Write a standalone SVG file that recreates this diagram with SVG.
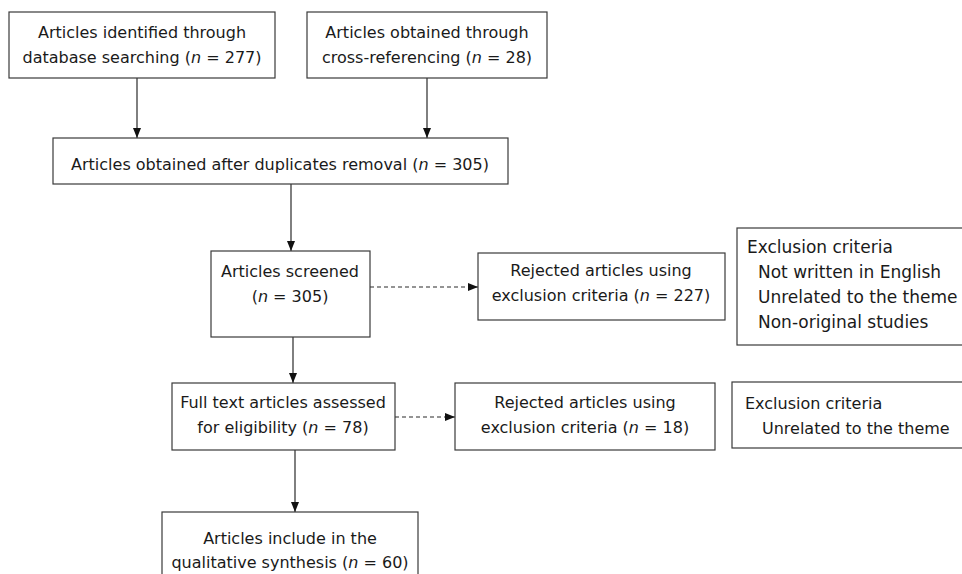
<svg xmlns="http://www.w3.org/2000/svg" width="962" height="574" viewBox="0 0 962 574">
<style>
.box{fill:#ffffff;stroke:#3a3a3a;stroke-width:1.2}
.t{font-family:"DejaVu Sans","Liberation Sans",sans-serif;font-size:16px;fill:#1a1a1a}
.b{font-size:17px}
.c{text-anchor:middle}
.ln{stroke:#2a2a2a;stroke-width:1.2;fill:none}
.ds{stroke-dasharray:4 3}
.i{font-style:italic}
</style>
<defs>
<marker id="ah" viewBox="0 0 10 10" refX="10" refY="5" markerWidth="10" markerHeight="10" markerUnits="userSpaceOnUse" orient="auto">
<path d="M0,1 L10,5 L0,9 Z" fill="#111"/>
</marker>
</defs>
<rect width="962" height="574" fill="#ffffff"/>
<g id="connectors">
<line class="ln" x1="137" y1="78" x2="137" y2="138" marker-end="url(#ah)"/>
<line class="ln" x1="427" y1="78" x2="427" y2="138" marker-end="url(#ah)"/>
<line class="ln" x1="291" y1="184" x2="291" y2="251" marker-end="url(#ah)"/>
<line class="ln" x1="293" y1="337" x2="293" y2="383" marker-end="url(#ah)"/>
<line class="ln" x1="295" y1="450" x2="295" y2="512" marker-end="url(#ah)"/>
<line class="ln ds" x1="370" y1="287" x2="478" y2="287" marker-end="url(#ah)"/>
<line class="ln ds" x1="395" y1="417" x2="455" y2="417" marker-end="url(#ah)"/>
</g>
<g id="n1">
<rect class="box" x="9" y="12" width="266" height="66"/>
<text class="t c" x="142" y="38">Articles identified through</text>
<text class="t c" x="142" y="63">database searching (<tspan class="i">n</tspan> = 277)</text>
</g>
<g id="n2">
<rect class="box" x="307" y="12" width="240" height="66"/>
<text class="t c" x="427" y="38">Articles obtained through</text>
<text class="t c" x="427" y="63">cross-referencing (<tspan class="i">n</tspan> = 28)</text>
</g>
<g id="n3">
<rect class="box" x="53" y="138" width="455" height="46"/>
<text class="t c" x="280" y="170">Articles obtained after duplicates removal (<tspan class="i">n</tspan> = 305)</text>
</g>
<g id="n4">
<rect class="box" x="211" y="251" width="159" height="86"/>
<text class="t c" x="290" y="277">Articles screened</text>
<text class="t c" x="290" y="302">(<tspan class="i">n</tspan> = 305)</text>
</g>
<g id="n5">
<rect class="box" x="478" y="253" width="247" height="67"/>
<text class="t c" x="601" y="276">Rejected articles using</text>
<text class="t c" x="601" y="301">exclusion criteria (<tspan class="i">n</tspan> = 227)</text>
</g>
<g id="n6">
<rect class="box" x="737" y="228" width="240" height="117"/>
<text class="t b" x="747" y="253">Exclusion criteria</text>
<text class="t b" x="758" y="278">Not written in English</text>
<text class="t b" x="758" y="303">Unrelated to the theme</text>
<text class="t b" x="758" y="328">Non-original studies</text>
</g>
<g id="n7">
<rect class="box" x="172" y="383" width="223" height="67"/>
<text class="t c" x="283" y="408">Full text articles assessed</text>
<text class="t c" x="283" y="433">for eligibility (<tspan class="i">n</tspan> = 78)</text>
</g>
<g id="n8">
<rect class="box" x="455" y="383" width="260" height="67"/>
<text class="t c" x="585" y="408">Rejected articles using</text>
<text class="t c" x="585" y="433">exclusion criteria (<tspan class="i">n</tspan> = 18)</text>
</g>
<g id="n9">
<rect class="box" x="732" y="382" width="245" height="66"/>
<text class="t" x="745" y="409">Exclusion criteria</text>
<text class="t" x="762" y="434">Unrelated to the theme</text>
</g>
<g id="n10">
<rect class="box" x="162" y="512" width="256" height="80"/>
<text class="t c" x="290" y="544">Articles include in the</text>
<text class="t c" x="290" y="568">qualitative synthesis (<tspan class="i">n</tspan> = 60)</text>
</g>
</svg>
